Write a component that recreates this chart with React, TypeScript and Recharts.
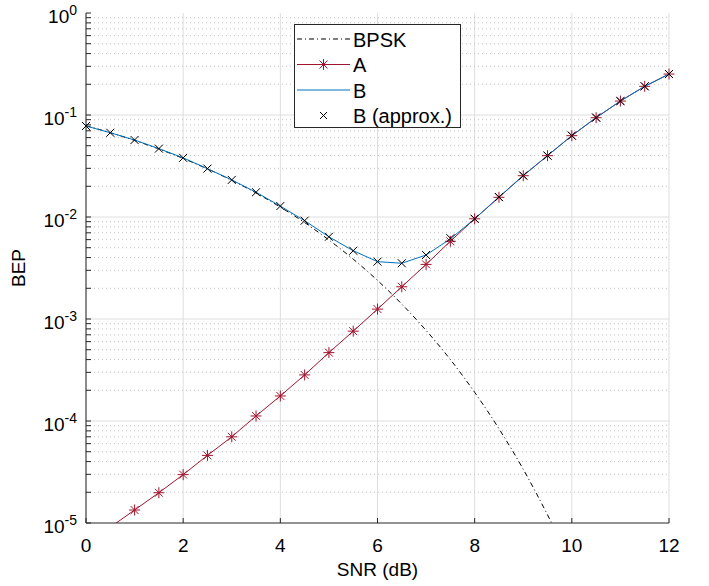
import { LineChart, Line, XAxis, YAxis, CartesianGrid, ReferenceLine, Legend } from "recharts";

const snr = [0, 0.5, 1, 1.5, 2, 2.5, 3, 3.5, 4, 4.5, 5, 5.5, 6, 6.5, 7, 7.5, 8, 8.5, 9, 9.5, 10, 10.5, 11, 11.5, 12];

const bpsk = [
  0.0786, 0.0671, 0.0563, 0.0464, 0.0375, 0.0296, 0.0229, 0.0172, 0.0125, 0.00882, 0.00595, 0.00386, 0.00239,
  0.0014, 0.000773, 0.0004, 0.000191, 0.000084, 0.0000336, 0.000012, 0.0000039, 0.0000011, null, null, null,
];

const seriesA = [
  0.0000062, 0.0000091, 0.0000134, 0.0000198, 0.0000298, 0.000046, 0.00007, 0.000112, 0.000176, 0.000283, 0.000468,
  0.00076, 0.00125, 0.00207, 0.00343, 0.00578, 0.0096, 0.0156, 0.0254, 0.0399, 0.0627, 0.094, 0.137, 0.191, 0.252,
];

const seriesB = [
  0.078, 0.067, 0.0569, 0.0468, 0.038, 0.0298, 0.0231, 0.0175, 0.0128, 0.0092, 0.0064, 0.00467, 0.00365, 0.00352,
  0.00424, 0.0061, 0.0096, 0.0157, 0.0255, 0.04, 0.0628, 0.0945, 0.137, 0.191, 0.252,
];

const seriesBApprox = [
  0.078, 0.067, 0.0569, 0.0468, 0.038, 0.0298, 0.0231, 0.0175, 0.0128, 0.0092, 0.0064, 0.00467, 0.00365, 0.00352,
  0.00424, 0.0062, 0.0096, 0.0157, 0.0255, 0.04, 0.0628, 0.0945, 0.137, 0.191, 0.252,
];

const xTicks = [0, 2, 4, 6, 8, 10, 12];
const decadeTicks = [1e-5, 1e-4, 1e-3, 1e-2, 1e-1, 1];
const minorTicks = decadeTicks.slice(0, -1).flatMap((d) => [2, 3, 4, 5, 6, 7, 8, 9].map((m) => m * d));
const allYTicks = [...decadeTicks, ...minorTicks].sort((p, q) => p - q);

const data = snr.map((x, i) => ({
  snr: x,
  bpsk: bpsk[i],
  a: seriesA[i],
  b: seriesB[i],
  bApprox: seriesBApprox[i],
}));

const FONT = "'Liberation Sans', Arial, Helvetica, sans-serif";
const AXIS = "#262626";
const RED = "#A2142F";
const BLUE = "#0072BD";
const TICK_LEN = 5;

function isDecade(v: number) {
  const e = Math.log10(v);
  return Math.abs(e - Math.round(e)) < 1e-6;
}

function LeftTick(props: any) {
  const { x, y, payload } = props;
  const v = payload.value as number;
  return (
    <g>
      <line x1={x} x2={x + TICK_LEN} y1={y} y2={y} stroke={AXIS} />
      {isDecade(v) && (
        <text x={x - 9} y={y + 10} textAnchor="end" fontFamily={FONT} fontSize={19} fill="#000">
          10
          <tspan dy={-8} fontSize={14}>
            {Math.round(Math.log10(v))}
          </tspan>
        </text>
      )}
    </g>
  );
}

function RightTick(props: any) {
  const { x, y } = props;
  return <line x1={x - TICK_LEN} x2={x} y1={y} y2={y} stroke={AXIS} />;
}

function BottomTick(props: any) {
  const { x, y, payload } = props;
  return (
    <g>
      <line x1={x} x2={x} y1={y} y2={y - TICK_LEN} stroke={AXIS} />
      <text x={x} y={y + 29} textAnchor="middle" fontFamily={FONT} fontSize={19} fill="#000">
        {payload.value}
      </text>
    </g>
  );
}

function TopTick(props: any) {
  const { x, y } = props;
  return <line x1={x} x2={x} y1={y} y2={y + TICK_LEN} stroke={AXIS} />;
}

function asteriskPath(cx: number, cy: number, r: number) {
  const d = r * 0.72;
  return `M${cx - r},${cy}H${cx + r}M${cx},${cy - r}V${cy + r}M${cx - d},${cy - d}L${cx + d},${cy + d}M${cx - d},${cy + d}L${cx + d},${cy - d}`;
}

function crossPath(cx: number, cy: number, r: number) {
  return `M${cx - r},${cy - r}L${cx + r},${cy + r}M${cx - r},${cy + r}L${cx + r},${cy - r}`;
}

function AsteriskDot(props: any) {
  const { cx, cy, value } = props;
  if (cx == null || cy == null || value == null || value < 1e-5) return <g key={props.key} />;
  return <path key={props.key} d={asteriskPath(cx, cy, 5.5)} stroke={RED} strokeWidth={1} fill="none" />;
}

function CrossDot(props: any) {
  const { cx, cy, value } = props;
  if (cx == null || cy == null || value == null) return <g key={props.key} />;
  return <path key={props.key} d={crossPath(cx, cy, 4)} stroke="#000" strokeWidth={1} fill="none" />;
}

const legendRows = [
  { label: "BPSK", kind: "bpsk" },
  { label: "A", kind: "a" },
  { label: "B", kind: "b" },
  { label: "B (approx.)", kind: "bApprox" },
];

function LegendBox() {
  const w = 167;
  const h = 104;
  return (
    <svg width={w} height={h} style={{ display: "block" }}>
      <rect x={0.5} y={0.5} width={w - 1} height={h - 1} fill="#fff" stroke={AXIS} />
      {legendRows.map((row, i) => {
        const cy = 15 + i * 25.5;
        return (
          <g key={row.kind}>
            {row.kind === "bpsk" && <line x1={3} x2={56} y1={cy} y2={cy} stroke="#000" strokeDasharray="5 3 1 3" />}
            {row.kind === "a" && (
              <>
                <line x1={3} x2={56} y1={cy} y2={cy} stroke={RED} />
                <path d={asteriskPath(29.5, cy, 5.5)} stroke={RED} fill="none" />
              </>
            )}
            {row.kind === "b" && <line x1={3} x2={56} y1={cy} y2={cy} stroke={BLUE} />}
            {row.kind === "bApprox" && <path d={crossPath(29.5, cy, 3.5)} stroke="#000" fill="none" />}
            <text x={59} y={cy + 7.5} fontFamily={FONT} fontSize={20} fill="#000">
              {row.label}
            </text>
          </g>
        );
      })}
    </svg>
  );
}

export default function App() {
  return (
    <div style={{ position: "absolute", left: 0, top: 0, width: 709, height: 586, background: "#fff" }}>
      <LineChart width={709} height={586} data={data} margin={{ top: 13, right: 40, left: 0, bottom: 0 }}>
        <CartesianGrid horizontal={false} stroke="#dedede" />
        {minorTicks.map((v) => (
          <ReferenceLine key={`m${v}`} y={v} stroke="#c4c4c4" strokeDasharray="1 3" />
        ))}
        {decadeTicks.slice(1, -1).map((v) => (
          <ReferenceLine key={`d${v}`} y={v} stroke="#dedede" />
        ))}
        <XAxis
          dataKey="snr"
          type="number"
          domain={[0, 12]}
          ticks={xTicks}
          interval={0}
          height={63}
          tickSize={0}
          tickMargin={0}
          tickLine={false}
          axisLine={{ stroke: AXIS }}
          tick={BottomTick}
          label={{
            content: ({ viewBox }: any) => (
              <text
                x={viewBox.x + viewBox.width / 2}
                y={viewBox.y + 53}
                textAnchor="middle"
                fontFamily={FONT}
                fontSize={19}
                fill="#000"
              >
                SNR (dB)
              </text>
            ),
          }}
        />
        <XAxis
          xAxisId="top"
          orientation="top"
          type="number"
          domain={[0, 12]}
          ticks={xTicks}
          interval={0}
          height={0}
          tickSize={0}
          tickMargin={0}
          tickLine={false}
          axisLine={{ stroke: AXIS }}
          tick={TopTick}
        />
        <YAxis
          type="number"
          scale="log"
          domain={[1e-5, 1]}
          allowDataOverflow
          ticks={allYTicks}
          interval={0}
          width={86}
          tickSize={0}
          tickMargin={0}
          tickLine={false}
          axisLine={{ stroke: AXIS }}
          tick={LeftTick}
          label={{
            content: ({ viewBox }: any) => {
              const cx = viewBox.x + 20;
              const cy = viewBox.y + viewBox.height / 2;
              return (
                <text
                  x={cx}
                  y={cy}
                  transform={`rotate(-90 ${cx} ${cy})`}
                  textAnchor="middle"
                  dominantBaseline="middle"
                  fontFamily={FONT}
                  fontSize={19}
                  fill="#000"
                >
                  BEP
                </text>
              );
            },
          }}
        />
        <YAxis
          yAxisId="right"
          orientation="right"
          type="number"
          scale="log"
          domain={[1e-5, 1]}
          allowDataOverflow
          ticks={allYTicks}
          interval={0}
          width={0}
          tickSize={0}
          tickMargin={0}
          tickLine={false}
          axisLine={{ stroke: AXIS }}
          tick={RightTick}
        />
        <Legend
          layout="horizontal"
          verticalAlign="middle"
          align="center"
          wrapperStyle={{ left: 294, top: 24, width: 167, height: 104 }}
          content={() => <LegendBox />}
        />
        <Line
          dataKey="bpsk"
          type="monotone"
          stroke="#000"
          strokeWidth={1}
          strokeDasharray="5 3 1 3"
          dot={false}
          isAnimationActive={false}
        />
        <Line dataKey="a" type="linear" stroke={RED} strokeWidth={1} dot={AsteriskDot} isAnimationActive={false} />
        <Line dataKey="b" type="linear" stroke={BLUE} strokeWidth={1} dot={false} isAnimationActive={false} />
        <Line dataKey="bApprox" type="linear" stroke="none" dot={CrossDot} isAnimationActive={false} />
      </LineChart>
    </div>
  );
}
